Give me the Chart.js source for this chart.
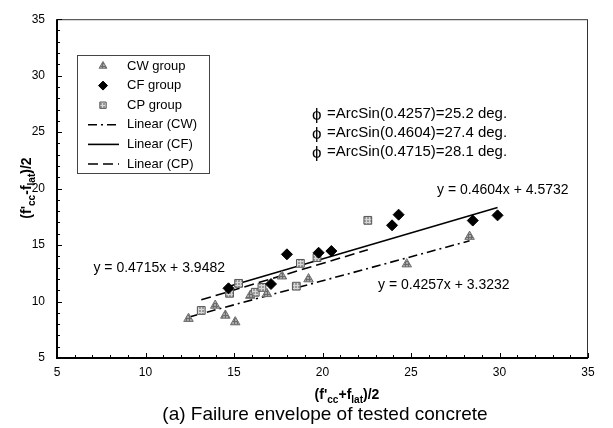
<!DOCTYPE html>
<html>
<head>
<meta charset="utf-8">
<script src="https://cdn.jsdelivr.net/npm/chart.js@4.4.1/dist/chart.umd.min.js"></script>
<style>
  body { margin: 0; background: #fff; }
  canvas { display: block; }
</style>
</head>
<body>
<canvas id="myChart" width="613" height="428"></canvas>
<script>
// data
const cwX = [12.43, 13.94, 14.51, 15.07, 15.92, 16.86, 17.71, 19.21, 24.76, 28.31];
const cwY = [8.48, 9.65, 8.77, 8.18, 10.53, 10.68, 12.24, 11.99, 13.31, 15.75];
const cfX = [14.69, 17.09, 17.99, 19.78, 20.50, 23.93, 24.30, 28.49, 29.89];
const cfY = [11.17, 11.55, 14.18, 14.32, 14.47, 16.75, 17.69, 17.17, 17.63];
const cpX = [13.15, 14.75, 15.26, 16.20, 16.58, 18.52, 18.75, 19.69, 22.56];
const cpY = [9.21, 10.73, 11.61, 10.82, 11.25, 11.36, 13.38, 13.89, 17.19];

const groupNames = ['CW group', 'CF group', 'CP group'];
const fitNames = ['Linear (CW)', 'Linear (CF)', 'Linear (CP)'];
const slopes = [0.4257, 0.4604, 0.4715];
const intercepts = [3.3232, 4.5732, 3.9482];
const angles = [25.2, 27.4, 28.1];
const axisMin = 5, axisMax = 35, axisStep = 5;

const FONT = "'Liberation Sans', Arial, sans-serif";

//Junta x e y em pontos.
function toPoints(xs, ys) {
    return xs.map((x, i) => ({ x: x, y: ys[i] }))
}

//Linha de tendência entre o menor e o maior x do grupo.
function fitLine(xs, k) {
    const lo = Math.min(...xs), hi = Math.max(...xs)
    return [lo, hi].map(x => ({ x: x, y: slopes[k] * x + intercepts[k] }))
}

//Textura quadriculada dos marcadores cinza.
function hatch(base, line) {
    const c = document.createElement('canvas')
    c.width = 3; c.height = 3
    const g = c.getContext('2d')
    g.fillStyle = base; g.fillRect(0, 0, 3, 3)
    g.fillStyle = line; g.fillRect(0, 0, 3, 1); g.fillRect(0, 0, 1, 3)
    return g.createPattern(c, 'repeat')
}

const cwFill = hatch('#a8a8a8', '#6a6a6a')
const cpFill = hatch('#9a9a9a', '#d8d8d8')

const datasets = [
    { label: groupNames[0], data: toPoints(cwX, cwY), pointStyle: 'triangle', pointRadius: 5.5,
      backgroundColor: cwFill, borderColor: '#707070', borderWidth: 1 },
    { label: groupNames[1], data: toPoints(cfX, cfY), pointStyle: 'rectRot', pointRadius: 5.5,
      backgroundColor: '#000', borderColor: '#000', borderWidth: 1 },
    { label: groupNames[2], data: toPoints(cpX, cpY), pointStyle: 'rect', pointRadius: 5.5,
      backgroundColor: cpFill, borderColor: '#555', borderWidth: 1 },
    { label: fitNames[0], data: fitLine(cwX, 0), showLine: true, pointRadius: 0,
      borderColor: '#000', borderWidth: 1.6, borderDash: [9, 4, 2, 4] },
    { label: fitNames[1], data: fitLine(cfX, 1), showLine: true, pointRadius: 0,
      borderColor: '#000', borderWidth: 1.6 },
    { label: fitNames[2], data: fitLine(cpX, 2), showLine: true, pointRadius: 0,
      borderColor: '#000', borderWidth: 1.6, borderDash: [10, 5] }
]

//Escreve texto com subscritos, centrado em x.
function drawSubText(ctx, parts, x, y, size) {
    let w = 0
    parts.forEach(p => {
        ctx.font = 'bold ' + (p[1] ? size * 0.72 : size) + 'px ' + FONT
        w += ctx.measureText(p[0]).width
    })
    let cx = x - w / 2
    parts.forEach(p => {
        ctx.font = 'bold ' + (p[1] ? size * 0.72 : size) + 'px ' + FONT
        ctx.fillText(p[0], cx, p[1] ? y + 4 : y)
        cx += ctx.measureText(p[0]).width
    })
}

const extras = {
    id: 'extras',
    afterDraw(chart) {
        const ctx = chart.ctx
        const a = chart.chartArea
        const xs = chart.scales.x, ys = chart.scales.y
        ctx.save()

        // moldura
        ctx.strokeStyle = '#333'
        ctx.lineWidth = 1
        ctx.strokeRect(a.left + 0.5, a.top + 0.5, a.width - 1, a.height - 1)
        ctx.strokeStyle = '#000'
        ctx.lineWidth = 2
        ctx.beginPath()
        ctx.moveTo(a.left, a.top); ctx.lineTo(a.left, a.bottom); ctx.lineTo(a.right, a.bottom)
        ctx.stroke()

        // ticks para dentro
        ctx.lineWidth = 1
        ctx.beginPath()
        for (let v = axisMin; v <= axisMax; v++) {
            const len = v % axisStep === 0 ? 5 : 3
            const px = Math.round(xs.getPixelForValue(v)) + 0.5
            ctx.moveTo(px, a.bottom); ctx.lineTo(px, a.bottom - len)
            const py = Math.round(ys.getPixelForValue(v)) + 0.5
            ctx.moveTo(a.left, py); ctx.lineTo(a.left + len, py)
        }
        ctx.stroke()

        // legenda
        const lx = 77, ly = 55, lw = 132, lh = 118
        ctx.fillStyle = '#fff'
        ctx.fillRect(lx, ly, lw, lh)
        ctx.strokeStyle = '#444'
        ctx.strokeRect(lx + 0.5, ly + 0.5, lw, lh)
        ctx.font = '13px ' + FONT
        ctx.textBaseline = 'middle'
        ctx.textAlign = 'left'
        chart.data.datasets.forEach((ds, i) => {
            const y = ly + 11 + i * 19.6
            if (ds.showLine) {
                ctx.strokeStyle = ds.borderColor
                ctx.lineWidth = ds.borderWidth
                ctx.setLineDash(ds.borderDash || [])
                ctx.beginPath(); ctx.moveTo(88, y); ctx.lineTo(119, y); ctx.stroke()
                ctx.setLineDash([])
            } else {
                ctx.fillStyle = ds.backgroundColor
                ctx.strokeStyle = ds.borderColor
                ctx.lineWidth = 1
                Chart.helpers.drawPoint(ctx, { pointStyle: ds.pointStyle, radius: 4.5, borderWidth: 1 }, 103, y)
            }
            ctx.fillStyle = '#000'
            ctx.fillText(ds.label, 127, y)
        })

        // equações
        ctx.font = '14px ' + FONT
        ctx.fillStyle = '#000'
        ctx.textAlign = 'right'
        ctx.fillText('y = ' + slopes[2] + 'x + ' + intercepts[2], 225, 268)
        ctx.textAlign = 'left'
        ctx.fillText('y = ' + slopes[0] + 'x + ' + intercepts[0], 378, 285)
        ctx.fillText('y = ' + slopes[1] + 'x + ' + intercepts[1].toFixed(4), 437, 190)

        // ângulos de atrito
        for (let k = 0; k < 3; k++) {
            const y = 114 + k * 19
            ctx.font = '17px ' + FONT
            ctx.fillText('\u03d5', 312, y + 1)
            ctx.font = '15px ' + FONT
            ctx.fillText('=ArcSin(' + slopes[k] + ')=' + angles[k] + ' deg.', 327, y)
        }

        // títulos dos eixos
        ctx.textAlign = 'left'
        ctx.textBaseline = 'alphabetic'
        ctx.fillStyle = '#000'
        drawSubText(ctx, [["(f'", false], ['cc', true], ['+f', false], ['lat', true], [')/2', false]], 347, 399, 14)
        ctx.save()
        ctx.translate(31, 188)
        ctx.rotate(-Math.PI / 2)
        drawSubText(ctx, [["(f'", false], ['cc', true], ['-f', false], ['lat', true], [')/2', false]], 0, 0, 14)
        ctx.restore()

        ctx.font = '19px ' + FONT
        ctx.textAlign = 'center'
        ctx.textBaseline = 'middle'
        ctx.fillText('(a) Failure envelope of tested concrete', 325, 415)
        ctx.restore()
    }
}

//Função que cria o gráfico.
function createChart() {
    const ctx = document.getElementById('myChart').getContext('2d')
    return new Chart(ctx, {
        type: 'scatter',
        data: { datasets: datasets },
        options: {
            responsive: false,
            animation: false,
            layout: { padding: { left: 0, right: 25, top: 16, bottom: 0 } },
            plugins: { legend: { display: false }, tooltip: { enabled: false } },
            scales: {
                x: {
                    min: axisMin, max: axisMax,
                    ticks: { stepSize: axisStep, color: '#000', font: { size: 12, family: FONT }, padding: 7, maxRotation: 0 },
                    grid: { display: false, drawTicks: false },
                    border: { display: false },
                    afterFit: s => { s.height = 70 }
                },
                y: {
                    min: axisMin, max: axisMax,
                    ticks: { stepSize: axisStep, color: '#000', font: { size: 12, family: FONT }, padding: 12 },
                    grid: { display: false, drawTicks: false },
                    border: { display: false },
                    afterFit: s => { s.width = 57 }
                }
            }
        },
        plugins: [extras]
    })
}

createChart()
</script>
</body>
</html>
